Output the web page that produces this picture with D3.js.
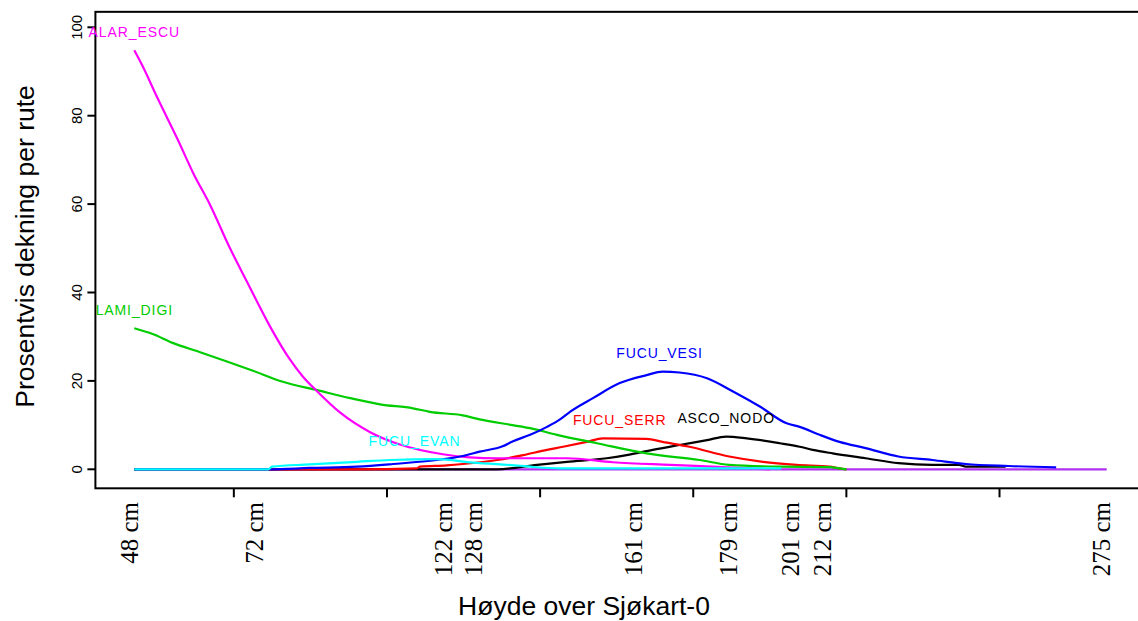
<!DOCTYPE html>
<html>
<head>
<meta charset="utf-8">
<script src="https://cdn.jsdelivr.net/npm/d3@7"></script>
<style>
  html, body { margin: 0; padding: 0; background: #fff; }
  svg { display: block; }
</style>
</head>
<body>
<svg id="chart" width="1138" height="621"></svg>
<script>
// Position along the sampled height gradient (sample index)
const indexDomain = [7, 134];
const xTickValues = [20, 40, 60, 80, 100, 120];
const yTickValues = [0, 20, 40, 60, 80, 100];

// Height labels shown under the axis and the sample index they belong to
const heightLabels = ["48 cm", "72 cm", "122 cm", "128 cm", "161 cm", "179 cm", "201 cm", "212 cm", "275 cm"];
const heightLabelIndex = [7, 23.3, 48, 52, 72.8, 85.2, 93.4, 97.6, 134];

// Cover per species: [sample index, percent cover]
const alarEscu = [[7,94.8],[8,91.5],[10,84.1],[12.7,74.5],[14.7,67.0],[16.9,59.8],[19.5,50.0],[21.7,42.5],[24.7,32.4],[27.3,24.9],[29,21.0],[30.9,17.6],[33.9,12.8],[37.8,8.4],[41.7,5.6],[47.3,3.4],[50.8,2.7],[54.4,2.5],[63.5,2.5],[69.5,1.6],[77,1.0],[83.8,0.5],[90,0]];
const lamiDigi = [[7,31.9],[9.4,30.6],[12,28.6],[15.6,26.5],[19.1,24.4],[22.5,22.3],[26.4,19.8],[30.9,17.9],[35.2,16.1],[39.1,14.7],[43.4,13.8],[45.6,13.0],[49.9,12.2],[52.1,11.3],[56.4,10.0],[58.7,9.3],[62.2,7.8],[67.4,5.9],[73.9,3.6],[80.8,2.1],[84.7,1.0],[91.3,0.6],[97.8,0.5],[99.1,0.2],[100,0]];
const fucuVesi = [[7,0],[24.7,0],[29.9,0.3],[36.1,0.6],[40.8,1.2],[46.5,2.1],[49.9,3.0],[52.1,4.0],[55.1,5.2],[56.4,6.3],[58.7,7.8],[60.9,9.6],[62.6,11.3],[63.9,13.0],[66.9,16.1],[70.4,19.5],[73.9,21.3],[76,22.1],[78.2,21.9],[81.8,20.6],[85.2,17.6],[88.7,14.2],[92.2,10.4],[93.9,9.6],[96.5,7.8],[99.1,6.2],[102.5,4.8],[106.8,2.9],[111.2,2.1],[115.6,1.2],[121.2,0.75],[127.4,0.45]];
const fucuSerr = [[7,0],[36.1,0],[43.9,0.2],[44.3,0.6],[47.8,0.9],[49.9,1.2],[54.4,2.1],[57.8,3.2],[60.9,4.4],[63,5.1],[66.1,6.2],[68.2,7.0],[73.9,6.9],[76,6.2],[79.5,5.1],[84.7,2.9],[89.1,1.7],[93.5,1.0],[97.8,0.6],[99.1,0.2],[100,0]];
const ascoNodo = [[7,0],[54.4,0],[59.6,1.0],[63.5,1.7],[68.7,2.5],[71.3,3.2],[74.7,4.4],[78.2,5.5],[81.8,6.6],[84.3,7.4],[87,7.0],[91.3,5.9],[93.9,5.1],[95.6,4.4],[98.2,3.6],[102.5,2.5],[106.8,1.4],[111.2,1.0],[114.7,1.0],[115.6,0.6],[120.8,0.6]];
const fucuEvan = [[7,0],[24.5,0],[25,0.6],[29.9,1.1],[36.1,1.7],[40.4,2.1],[46.5,2.3],[51.2,1.5],[57.4,0.8],[58.7,0.6],[62.6,0.2],[91.5,0.2]];
const otherSpp = [[7,0],[134,0]];

const seriesNames = ["", "ASCO_NODO", "FUCU_SERR", "LAMI_DIGI", "ALAR_ESCU", "FUCU_VESI", "FUCU_EVAN"];
const seriesData = [otherSpp, ascoNodo, fucuSerr, lamiDigi, alarEscu, fucuVesi, fucuEvan];
const seriesColors = ["#b030f0", "#000000", "#ff0000", "#00cd00", "#ff00ff", "#0000ff", "#00ffff"];
// Sample index where each species name is written (above its maximum)
const seriesLabelIndex = [null, 84.3, 70.4, 7, 7, 75.6, 43.6];

const svg = d3.select("#chart");

const x = d3.scaleLinear().domain(indexDomain).range([134.3, 1106.7]);
const y = d3.scaleLinear().domain([0, 100]).range([469.3, 27.3]);

// Plot frame (extends 4% past the data in x, as the plotting device does)
const span = indexDomain[1] - indexDomain[0];
const frameLeft = x(indexDomain[0] - 0.04 * span);
const frameRight = x(indexDomain[1] + 0.04 * span);
const frameTop = y(103.5);
const frameBottom = y(-4.3);

svg.append("rect")
  .attr("x", frameLeft).attr("y", frameTop)
  .attr("width", frameRight - frameLeft).attr("height", frameBottom - frameTop)
  .attr("fill", "none").attr("stroke", "#000").attr("stroke-width", 2);

// Y axis
const yAxis = svg.append("g").attr("transform", `translate(${frameLeft},0)`);
yAxis.selectAll("line").data(yTickValues).join("line")
  .attr("x1", 0).attr("x2", -8)
  .attr("y1", d => y(d)).attr("y2", d => y(d))
  .attr("stroke", "#000").attr("stroke-width", 2);
yAxis.selectAll("text").data(yTickValues).join("text")
  .attr("transform", d => `translate(${82 - frameLeft},${y(d)}) rotate(-90)`)
  .attr("text-anchor", "middle")
  .attr("font-family", "'Liberation Sans', Arial, sans-serif")
  .attr("font-size", 15)
  .text(d => d);

// X axis ticks (unlabelled)
const xAxis = svg.append("g").attr("transform", `translate(0,${frameBottom})`);
xAxis.selectAll("line").data(xTickValues).join("line")
  .attr("x1", d => x(d)).attr("x2", d => x(d))
  .attr("y1", 0).attr("y2", 9)
  .attr("stroke", "#000").attr("stroke-width", 2);

// Height labels
svg.append("g").selectAll("text").data(heightLabels).join("text")
  .attr("transform", (d, i) => `translate(${x(heightLabelIndex[i]) + 3.5},502) rotate(-90)`)
  .attr("text-anchor", "end")
  .attr("font-family", "'Liberation Serif', 'Times New Roman', serif")
  .attr("font-size", 25)
  .text(d => d);

// Axis titles
svg.append("text")
  .attr("transform", "translate(34,246.5) rotate(-90)")
  .attr("text-anchor", "middle")
  .attr("font-family", "'Liberation Sans', Arial, sans-serif")
  .attr("font-size", 26.5)
  .text("Prosentvis dekning per rute");

svg.append("text")
  .attr("x", 584).attr("y", 615)
  .attr("text-anchor", "middle")
  .attr("font-family", "'Liberation Sans', Arial, sans-serif")
  .attr("font-size", 26.5)
  .text("Høyde over Sjøkart-0");

// Species lines
const line = d3.line()
  .x(d => x(d[0]))
  .y(d => y(d[1]))
  .curve(d3.curveMonotoneX);

svg.append("g").selectAll("path").data(seriesData).join("path")
  .attr("d", d => line(d))
  .attr("fill", "none")
  .attr("stroke", (d, i) => seriesColors[i])
  .attr("stroke-width", 2.2)
  .attr("stroke-linejoin", "round");

// Species names above each maximum
const labelled = seriesNames.map((name, i) => ({ name, i })).filter(d => d.name !== "");
svg.append("g").selectAll("text").data(labelled).join("text")
  .attr("x", d => x(seriesLabelIndex[d.i]))
  .attr("y", d => y(d3.max(seriesData[d.i], p => p[1]) + 3))
  .attr("text-anchor", "middle")
  .attr("font-family", "'Liberation Sans', Arial, sans-serif")
  .attr("font-size", 14)
  .attr("letter-spacing", 0.9)
  .attr("fill", d => seriesColors[d.i])
  .text(d => d.name);
</script>
</body>
</html>
